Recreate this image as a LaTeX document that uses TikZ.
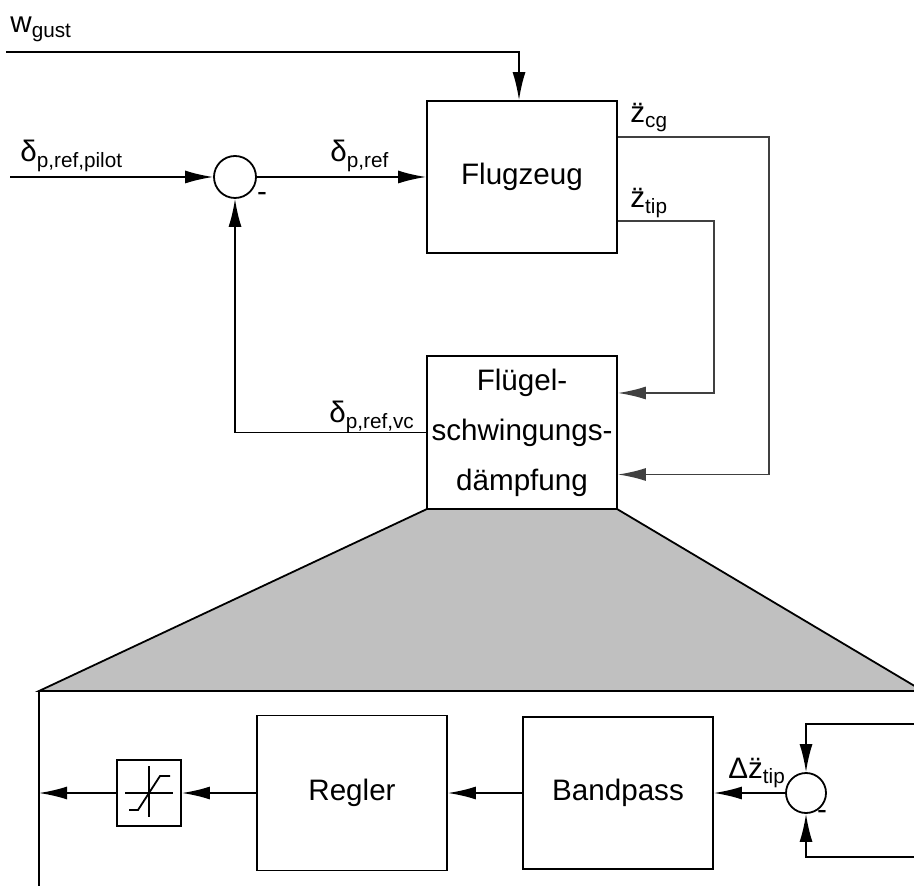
\documentclass[tikz,border=0pt]{standalone}
\usepackage{fontspec}
\setmainfont{Liberation Sans}
\usetikzlibrary{arrows.meta}

\definecolor{zoomgray}{RGB}{192,192,192}

\tikzset{
	block/.style = {draw, line width = 0.9pt, minimum width = 95pt, minimum height = 76pt, inner sep = 0pt},
	sumpoint/.style = {draw, circle, line width = 0.9pt, minimum size = 21pt, inner sep = 0pt},
	signal/.style = {line width = 0.9pt, -{Latex[length = 14pt, width = 6.5pt]}},
	feedback/.style = {draw = black!75},
	sigtext/.style = {anchor = base west, inner sep = 0pt}
}

\begin{document}
\begin{tikzpicture}[x = 0.5pt, y = -0.5pt, every node/.style = {font = \fontsize{14.8}{25}\selectfont}]

	\useasboundingbox (0, 0) rectangle (914, 886);
	\clip (0, 0) rectangle (914, 886);

	% Zoom of the damping block
	
	\filldraw [fill = zoomgray, line width = 0.9pt] (427, 509) -- (39, 691) -- (923, 691) -- (617, 509);
	\draw [line width = 0.9pt] (39, 691) -- (39, 900);

	% Outer loop
	
	\node [block] (flugzeug) at (522, 177) {Flugzeug};
	\node [block, align = center, minimum height = 76.5pt] (daempfung) at (522, 432.5) {Flügel-\\schwingungs-\\dämpfung};
	\node [sumpoint] (sum) at (235, 177) {};
	
	\coordinate (gust) at (6, 52);
	\coordinate (pilot) at (10, 177);
	
	\draw [signal] (gust) -| ([xshift = -1.5pt]flugzeug.north);
	\draw [signal] (pilot) -- (sum);
	\draw [signal] (sum) -- (flugzeug);
	\draw [signal, feedback] ([yshift = 20pt]flugzeug.east) -- ++(151, 0) |- ([yshift = -21pt]daempfung.east);
	\draw [signal, feedback] ([yshift = -22pt]flugzeug.east) -- ++(96, 0) |- ([yshift = 19.75pt]daempfung.east);
	\draw [signal] (daempfung.west) -| (sum.south);
	
	\node [sigtext] (wlabel) at (10, 33) {w\textsubscript{gust}};
	\node [sigtext] (pilotlabel) at (20, 162) {δ\textsubscript{p,ref,pilot}};
	\node [sigtext] (reflabel) at (330, 162) {δ\textsubscript{p,ref}};
	\node [sigtext] (vclabel) at (329, 423) {δ\textsubscript{p,ref,vc}};
	\node [sigtext] (cglabel) at (630, 123) {\"z\textsubscript{cg}};
	\node [sigtext] (tiplabel) at (630, 208) {\"z\textsubscript{tip}};
	\node (minus) at (262, 197) {-};

	% Inner structure
	
	\node [block, minimum height = 77.5pt] (regler) at (352, 793) {Regler};
	\node [block] (bandpass) at (618, 793) {Bandpass};
	\node [block, minimum width = 32pt, minimum height = 33pt] (sat) at (149, 793) {};
	\node [sumpoint, minimum size = 20pt] (sumtip) at (806, 793) {};
	
	\draw [line width = 0.9pt] ([xshift = -12pt]sat.center) -- ([xshift = 12pt]sat.center);
	\draw [line width = 0.9pt] ([yshift = 13.5pt]sat.center) -- ([yshift = -12pt]sat.center);
	\draw [line width = 0.9pt, shift = {(sat.center)}] (-20, 17) -- (-11, 17) -- (11, -17) -- (21, -17);
	
	\coordinate (out) at (39, 793);
	\coordinate (tipin) at (920, 724);
	\coordinate (tipref) at (920, 857);
	
	\draw [signal] (sumtip) -- (bandpass);
	\draw [signal] (bandpass) -- (regler);
	\draw [signal] (regler) -- (sat);
	\draw [signal] (sat) -- (out);
	\draw [signal] (tipin) -| (sumtip.north);
	\draw [signal] (tipref) -| (sumtip.south);
	
	\node [sigtext] (dtiplabel) at (728, 778) {Δ\"z\textsubscript{tip}};
	\node (minustip) at (822, 815) {-};

\end{tikzpicture}
\end{document}
